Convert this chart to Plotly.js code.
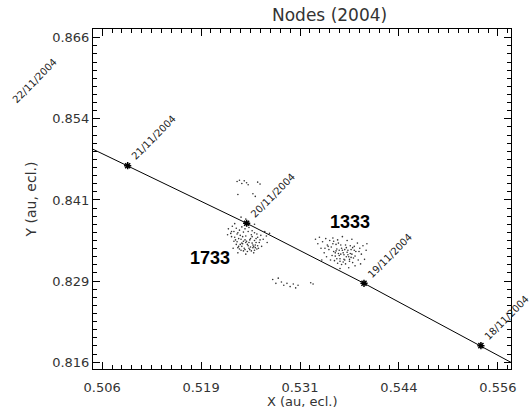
<!DOCTYPE html>
<html>
<head>
<meta charset="utf-8">
<script src="https://cdn.plot.ly/plotly-3.0.1.min.js"></script>
<style>html,body{margin:0;padding:0;background:#fff;}#chart{width:530px;height:410px;}</style>
</head>
<body>
<div id="chart"></div>
<script>
// Axis ranges and ticks
var xRange = [0.5051, 0.5579];
var yRange = [0.8152, 0.8676];
var xTickVals = [0.50625, 0.51875, 0.53125, 0.54375, 0.55625];
var xTickText = ['0.506', '0.519', '0.531', '0.544', '0.556'];
var yTickVals = [0.81625, 0.82875, 0.84125, 0.85375, 0.86625];
var yTickText = ['0.816', '0.829', '0.841', '0.854', '0.866'];
var xTitle = 'X (au, ecl.)';
var yTitle = 'Y (au, ecl.)';

// Earth path with daily positions
var dateLabels = ['22/11/2004', '21/11/2004', '20/11/2004', '19/11/2004', '18/11/2004', ''];
var dateX = [0.4945, 0.50948, 0.52451, 0.53933, 0.55410, 0.5689];
var dateY = [0.8553, 0.84653, 0.83766, 0.82841, 0.81880, 0.8090];

// 1733 trail nodes
var nodes1733X = [0.5230,0.5233,0.5235,0.5238,0.5240,0.5242,0.5244,0.5245,0.5247,0.5249,0.5250,0.5252,0.5253,0.5255,0.5256,0.5258,0.5259,0.5261,0.5236,0.5241,0.5246,0.5251,0.5243,0.5248,0.5239,0.5254,0.5232,0.5237,0.5251,0.5257,
  0.5222,0.5225,0.5227,0.5229,0.5232,0.5234,0.5236,0.5239,0.5241,0.5243,0.5226,0.5221,0.5230,0.5248,0.5252,0.5255,0.5258,0.5238,0.5244,0.5255,
  0.5263,0.5266,0.5268,0.5271,0.5264,0.5270,0.5274,0.5234,0.5244,0.5254,0.5260,0.5228,
  0.5231,0.5234,0.5237,0.5243,0.5246,0.5249,0.5253,0.5257,0.5229,0.5240,0.5250,0.5255,0.5262,0.5235,0.5244,0.5248,0.5238,0.5252,0.5226,0.5259,0.5241,0.5233,0.5247,0.5256,0.5239,
  0.5233,0.5236,0.5239,0.5242,0.5245,0.5247,0.5259,0.5262,0.5253,0.5234,0.5256,
  0.5278,0.5282,0.5285,0.5289,0.5292,0.5296,0.5300,0.5304,0.5307,0.5310,0.5326,0.5329];
var nodes1733Y = [0.8355,0.8348,0.8341,0.8352,0.8345,0.8338,0.8357,0.8349,0.8342,0.8336,0.8353,0.8346,0.8339,0.8350,0.8343,0.8337,0.8355,0.8347,0.8337,0.8334,0.8333,0.8334,0.8351,0.8347,0.8341,0.8341,0.8344,0.8358,0.8359,0.8353,
  0.8368,0.8361,0.8372,0.8364,0.8369,0.8362,0.8366,0.8371,0.8363,0.8368,0.8356,0.8359,0.8376,0.8370,0.8365,0.8362,0.8360,0.8386,0.8383,0.8375,
  0.8358,0.8352,0.8364,0.8347,0.8341,0.8357,0.8361,0.8331,0.8329,0.8331,0.8338,0.8338,
  0.8351,0.8339,0.8344,0.8336,0.8344,0.8351,0.8343,0.8347,0.8349,0.8356,0.8340,0.8335,0.8351,0.8353,0.8347,0.8338,0.8335,0.8356,0.8364,0.8342,0.8349,0.8360,0.8364,0.8339,0.8346,
  0.8441,0.8443,0.8438,0.8442,0.8439,0.8436,0.8440,0.8437,0.8422,0.8421,0.8418,
  0.8290,0.8284,0.8292,0.8286,0.8281,0.8284,0.8279,0.8283,0.8277,0.8281,0.8285,0.8283];

// 1333 trail nodes
var nodes1333X = [0.5352,0.5355,0.5357,0.5359,0.5361,0.5363,0.5364,0.5366,0.5368,0.5369,0.5371,0.5372,0.5374,0.5375,0.5377,0.5378,0.5380,0.5381,0.5383,0.5356,0.5360,0.5365,0.5370,0.5367,0.5362,0.5373,0.5358,0.5353,0.5376,0.5379,
  0.5332,0.5335,0.5337,0.5339,0.5341,0.5343,0.5345,0.5347,0.5349,0.5350,0.5346,0.5351,0.5354,0.5360,0.5366,0.5372,0.5378,0.5385,0.5388,0.5390,0.5392,0.5394,0.5396,0.5386,0.5382,0.5374,0.5363,0.5389,0.5397,0.5340,
  0.5357,0.5362,0.5368,0.5373,0.5379,0.5354,0.5359,0.5365,0.5371,0.5376,0.5382,0.5348,0.5361,0.5367,0.5370,0.5364,0.5358,0.5375,0.5344,0.5387,0.5369,0.5377,0.5355,0.5363,0.5381];
var nodes1333Y = [0.8340,0.8333,0.8326,0.8337,0.8330,0.8322,0.8343,0.8335,0.8328,0.8320,0.8339,0.8332,0.8325,0.8318,0.8336,0.8329,0.8323,0.8341,0.8333,0.8319,0.8315,0.8313,0.8314,0.8331,0.8335,0.8328,0.8344,0.8327,0.8342,0.8316,
  0.8352,0.8345,0.8355,0.8338,0.8348,0.8331,0.8353,0.8343,0.8336,0.8350,0.8325,0.8320,0.8354,0.8351,0.8356,0.8350,0.8352,0.8346,0.8338,0.8329,0.8342,0.8321,0.8335,0.8320,0.8311,0.8308,0.8307,0.8314,0.8345,0.8320,
  0.8331,0.8327,0.8321,0.8335,0.8339,0.8345,0.8322,0.8338,0.8325,0.8330,0.8326,0.8341,0.8346,0.8317,0.8343,0.8329,0.8334,0.8321,0.8338,0.8333,0.8336,0.8324,0.8349,0.8318,0.8335];

var trailNames = ['1733', '1333'];
var trailLabelX = [0.5199, 0.5376];
var trailLabelY = [0.8323, 0.8379];

var dotStyle = {size: 1.6, color: '#333'};
var traces = [
  {x: nodes1733X, y: nodes1733Y, mode: 'markers', type: 'scatter', marker: dotStyle, hoverinfo: 'none'},
  {x: nodes1333X, y: nodes1333Y, mode: 'markers', type: 'scatter', marker: dotStyle, hoverinfo: 'none'},
  {x: dateX, y: dateY, mode: 'lines+markers', type: 'scatter', line: {color: '#000', width: 1},
   marker: {symbol: 'asterisk-open', size: 6, color: '#000', line: {color: '#000', width: 1.5}}, hoverinfo: 'none'}
];

var annotations = [];
for (var i = 0; i < dateLabels.length; i++) {
  if (!dateLabels[i]) continue;
  annotations.push({
    xref: 'paper', yref: 'paper',
    x: (dateX[i] - xRange[0]) / (xRange[1] - xRange[0]),
    y: (dateY[i] - yRange[0]) / (yRange[1] - yRange[0]),
    text: dateLabels[i], showarrow: false, textangle: -45,
    xanchor: 'center', yanchor: 'middle', xshift: 26, yshift: 28,
    font: {family: 'DejaVu Sans', size: 10, color: '#222'}
  });
}
for (var j = 0; j < trailNames.length; j++) {
  annotations.push({
    xref: 'x', yref: 'y', x: trailLabelX[j], y: trailLabelY[j],
    text: '<b>' + trailNames[j] + '</b>', showarrow: false,
    xanchor: 'center', yanchor: 'middle',
    font: {family: 'Liberation Sans', size: 18, color: '#000'}
  });
}
// x-axis title, placed at the bottom of the page
annotations.push({
  xref: 'paper', yref: 'paper', x: 0.5, y: -41 / 340, xanchor: 'center', yanchor: 'bottom',
  text: xTitle, showarrow: false, borderpad: 0,
  font: {family: 'DejaVu Sans', size: 13, color: '#333'}
});

var axisCommon = {
  showgrid: false, zeroline: false, showline: true, linecolor: '#000', linewidth: 1,
  mirror: 'ticks', ticks: 'inside', ticklen: 7, tickwidth: 1, tickcolor: '#000',
  tickfont: {family: 'DejaVu Sans', size: 13, color: '#333'}
};

var layout = {
  width: 530, height: 410,
  margin: {l: 93, r: 19, t: 29, b: 41},
  paper_bgcolor: '#fff', plot_bgcolor: '#fff',
  showlegend: false,
  title: {text: 'Nodes (2004)', font: {family: 'DejaVu Sans', size: 17, color: '#333'},
          x: 0.566, xanchor: 'center', xref: 'paper', y: 0.963, yref: 'container', yanchor: 'middle'},
  xaxis: Object.assign({}, axisCommon, {
    range: xRange, tickmode: 'array', tickvals: xTickVals, ticktext: xTickText,
    ticklabelstandoff: 6,
    minor: {tickmode: 'linear', tick0: 0.50625, dtick: 0.00125, ticks: 'inside', ticklen: 4, tickcolor: '#000', tickwidth: 1}
  }),
  yaxis: Object.assign({}, axisCommon, {
    range: yRange, tickmode: 'array', tickvals: yTickVals, ticktext: yTickText,
    minor: {tickmode: 'linear', tick0: 0.81625, dtick: 0.00125, ticks: 'inside', ticklen: 4, tickcolor: '#000', tickwidth: 1},
    title: {text: yTitle, font: {family: 'DejaVu Sans', size: 14, color: '#333'}, standoff: 12}
  }),
  annotations: annotations
};

Plotly.newPlot('chart', traces, layout, {staticPlot: true, displayModeBar: false});
</script>
</body>
</html>
